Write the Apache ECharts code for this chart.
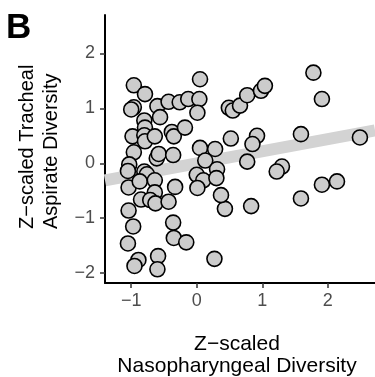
<!DOCTYPE html>
<html>
<head>
<meta charset="utf-8">
<script src="https://cdn.jsdelivr.net/npm/echarts@6/dist/echarts.min.js"></script>
<style>
  html, body { margin: 0; padding: 0; background: #fff; }
  #chart { width: 375px; height: 377px; }
</style>
</head>
<body>
<div id="chart"></div>
<script>
// nasopharyngeal (x) vs tracheal aspirate (y), z-scaled
var naso = [
    -0.96, -0.79, -0.96, -1.00, -0.80, -0.79, -0.60, -0.56, -0.43, -0.26,
    -0.13, 0.04, 0.05, 0.01, -0.98, -0.80, -0.79, -0.64, -0.38, -0.35,
    -0.18, -0.96, -0.61, -0.58, -0.36, 0.05, 0.28, 0.13, 0.52, 0.49,
    0.55, 0.66, 0.77, 0.98, 1.04, 1.78, 1.91, 0.92, 0.85, 1.59,
    2.49, 0.77, 1.30, 1.22, 2.14, 1.91, 1.59, 0.83, 0.43, -1.03,
    -1.05, -0.80, -0.76, -1.04, -0.87, -0.64, -0.64, -0.85, -0.71, -0.63,
    -0.43, -0.33, -1.04, -0.97, -1.05, -0.89, -0.95, -0.59, -0.60, -0.36,
    -0.35, -0.16, 0.27, 0.00, 0.10, 0.01, 0.31, 0.30, 0.37
];
var tracheal = [
    1.42, 1.26, 1.02, 0.98, 0.78, 0.65, 1.04, 0.84, 1.12, 1.11,
    1.17, 1.17, 1.53, 0.92, 0.49, 0.51, 0.40, 0.49, 0.57, 0.49,
    0.65, 0.20, 0.09, 0.17, 0.15, 0.28, 0.26, 0.05, 0.45, 1.01,
    0.96, 1.05, 1.24, 1.32, 1.41, 1.65, 1.17, 0.50, 0.35, 0.53,
    0.47, 0.03, -0.06, -0.15, -0.33, -0.39, -0.64, -0.78, -0.83, -0.02,
    -0.14, -0.15, -0.20, -0.44, -0.33, -0.31, -0.53, -0.66, -0.67, -0.73,
    -0.70, -0.43, -0.86, -1.15, -1.46, -1.76, -1.87, -1.69, -1.93, -1.08,
    -1.36, -1.44, -1.74, -0.21, -0.31, -0.45, -0.11, -0.27, -0.58
];
// linear fit, drawn across the panel
var fitX = [-1.4, 2.72];
var fitY = [-0.31, 0.60];
var xTicks = [-1, 0, 1, 2];
var yTicks = [-2, -1, 0, 1, 2];

var points = naso.map(function (v, i) { return [v, tracheal[i]]; });
var fitLine = fitX.map(function (v, i) { return [v, fitY[i]]; });

function minus(v) {
    return String(v).replace('-', '\u2212');
}

var font = 'Liberation Sans, Arial, Helvetica, sans-serif';
var chart = echarts.init(document.getElementById('chart'));
var option = {
    animation: false,
    grid: { left: 105, right: 0, top: 15, bottom: 94 },
    xAxis: {
        type: 'value',
        min: -1.4,
        max: 2.72,
        axisLine: { show: true, onZero: false, lineStyle: { color: '#000', width: 2 } },
        axisTick: { show: true, customValues: xTicks, length: 5, lineStyle: { color: '#333', width: 1.5 } },
        axisLabel: { customValues: xTicks, formatter: minus, color: '#4d4d4d', fontSize: 18, fontFamily: font, margin: 9 },
        splitLine: { show: false }
    },
    yAxis: {
        type: 'value',
        min: -2.18,
        max: 2.7,
        axisLine: { show: true, onZero: false, lineStyle: { color: '#000', width: 2 } },
        axisTick: { show: true, customValues: yTicks, length: 5, lineStyle: { color: '#333', width: 1.5 } },
        axisLabel: { customValues: yTicks, formatter: minus, color: '#4d4d4d', fontSize: 18, fontFamily: font, margin: 10 },
        splitLine: { show: false }
    },
    graphic: [
        {
            type: 'text', left: 6, top: 11,
            style: { text: 'B', fontSize: 35, fontWeight: 'bold', fontFamily: font, fill: '#000' }
        },
        {
            type: 'text', x: 237, y: 333,
            style: {
                text: 'Z\u2212scaled\nNasopharyngeal Diversity',
                fontSize: 21, fontFamily: font, fill: '#000',
                align: 'center', verticalAlign: 'top', lineHeight: 22
            }
        },
        {
            type: 'text', x: 15, y: 229, rotation: Math.PI / 2,
            style: {
                text: 'Z\u2212scaled Tracheal\nAspirate Diversity',
                fontSize: 20, fontFamily: font, fill: '#000',
                align: 'left', verticalAlign: 'top', lineHeight: 24
            }
        }
    ],
    series: [
        {
            type: 'line',
            data: fitLine,
            symbol: 'none',
            silent: true,
            z: 1,
            lineStyle: { color: '#d3d3d3', width: 12 }
        },
        {
            type: 'scatter',
            data: points,
            symbol: 'circle',
            symbolSize: 15,
            z: 2,
            itemStyle: { color: '#cccccc', borderColor: '#000', borderWidth: 1.6, opacity: 1 }
        }
    ]
};
chart.setOption(option);
</script>
</body>
</html>
